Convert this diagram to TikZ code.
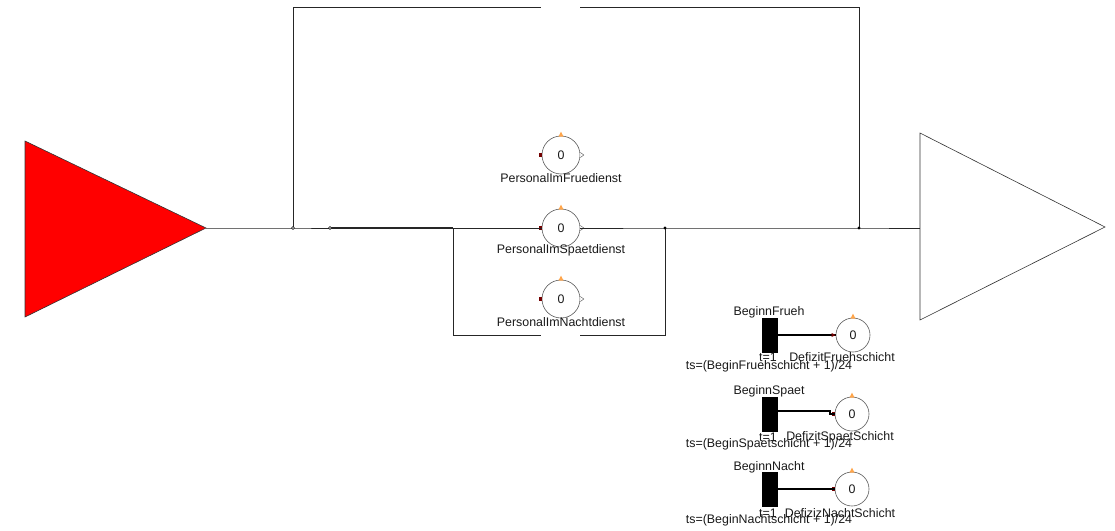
\documentclass[tikz,border=0pt]{standalone}
\usepackage{fontspec}
\setmainfont{Liberation Sans}
\usetikzlibrary{calc}
\newcommand\placedeco[2]{%
  \fill[orange!70] ($(#1.north)+(-2.5,1)$) -- ($(#1.north)+(2.5,1)$) -- ($(#1.north)+(0,-4)$) -- cycle;
  \ifnum#2=1
  \fill[red!45!black] ($(#1.west)+(-3,-2.2)$) rectangle ($(#1.west)+(0.5,2.2)$);
  \draw[black!70,fill=white,line width=0.4pt] ($(#1.east)+(0,-2.5)$) -- ($(#1.east)+(3.5,0)$) -- ($(#1.east)+(0,2.5)$);
  \fi
  \ifnum#2=2
  \fill[red!45!black] ($(#1.west)+(-3,-2.2)$) rectangle ($(#1.west)+(0.5,2.2)$);
  \fi
}
\begin{document}
\begin{tikzpicture}[x=1pt,y=-1pt,
  txt/.style={font=\fontsize{12.4}{14}\selectfont,inner sep=0pt,text=black!90},
  place/.style={circle,draw=black!65,line width=0.6pt,minimum size=38pt,inner sep=0pt,txt},
  dplace/.style={place,minimum size=34pt},
  wire/.style={draw=black!85,line width=0.8pt},
  thickwire/.style={draw=black,line width=1.6pt},
  junc/.style={circle,draw=black,fill=white,minimum size=3pt,inner sep=0pt,line width=0.5pt},
  trans/.style={fill=black,draw=black,minimum width=15pt,minimum height=34pt,inner sep=0pt}]
\useasboundingbox (0,0) rectangle (1115,530);
% source and sink
\draw[fill=red,draw=black!80,line width=0.6pt] (25,141) -- (206,228) -- (25,317) -- cycle;
\coordinate (src) at (206,228);
\draw[fill=white,draw=black!80,line width=0.6pt] (920,133) -- (1105,227) -- (920,320) -- cycle;
\coordinate (snk) at (920,228);
% places
\node[place] (pF) at (561,155) {0};
\node[place] (pS) at (561,228) {0};
\node[place] (pN) at (561,299) {0};
\node[txt] (lF) at (561,178) {PersonalImFruedienst};
\node[txt] (lS) at (561,250) {PersonalImSpaetdienst};
\node[txt] (lN) at (561,322) {PersonalImNachtdienst};
\placedeco{pF}{1}
\placedeco{pS}{1}
\placedeco{pN}{1}
% junctions
\coordinate (j1) at (293,228);
\coordinate (j2) at (330,228);
\coordinate (j4) at (665,228);
\coordinate (j3) at (859,228);
\coordinate (lb) at (453,228);
\coordinate (t1) at (293,7);
\coordinate (t2) at (541,7);
\coordinate (t3) at (580,7);
\coordinate (t4) at (859,7);
\coordinate (b1) at (453,335);
\coordinate (b2) at (541,335);
\coordinate (b3) at (580,335);
\coordinate (b4) at (665,335);
\draw[wire] (src) -- (j1) -- (j2);
\draw[wire,line width=1.3pt] (j2) -- (lb);
\draw[wire] (lb) -- (pS.west);
\draw[wire] (pS.east) -- (j4) -- (j3) -- (snk);
\draw[wire] (j1) -- (t1) -- (t2);
\draw[wire] (t3) -- (t4) -- (j3);
\draw[wire] (lb) -- (b1) -- (b2);
\draw[wire] (b3) -- (b4) -- (j4);
\node[junc] at (j1) {};
\node[junc] at (j2) {};
\fill[black] (j4) circle (1.6);
\fill[black] (j3) circle (1.6);
% transitions
\node[trans] (tF) at (769.5,335) {};
\node[trans] (tS) at (769.5,414) {};
\node[trans] (tN) at (769.5,489) {};
\node[dplace] (dF) at (853,335) {0};
\node[dplace] (dS) at (852,414) {0};
\node[dplace] (dN) at (852,489) {0};
\placedeco{dF}{0}
\placedeco{dS}{2}
\placedeco{dN}{2}
\coordinate (kS) at (830,411);
\draw[thickwire] (tF.east) -- (dF.west);
\fill[red!45!black] ($(dF.west)+(-4,-2)$) -- ($(dF.west)+(0,0)$) -- ($(dF.west)+(-4,2)$) -- cycle;
\draw[thickwire] ($(tS.east)+(0,-3)$) -- (kS) |- (dS.west);
\draw[thickwire] (tN.east) -- (dN.west);
\node[txt] (nF) at (769,312) {BeginnFrueh};
\node[txt] (nS) at (769,391) {BeginnSpaet};
\node[txt] (nN) at (769,467) {BeginnNacht};
\node[txt] (uF) at (768,357) {t=1};
\node[txt] (uS) at (768,437) {t=1};
\node[txt] (uN) at (768,513) {t=1};
\node[txt] (sF) at (769,366) {ts=(BeginFruehschicht + 1)/24};
\node[txt] (sS) at (769,444) {ts=(BeginSpaetschicht + 1)/24};
\node[txt] (sN) at (769,520) {ts=(BeginNachtschicht + 1)/24};
\node[txt] (qF) at (842,357) {DefizitFruehschicht};
\node[txt] (qS) at (840,437) {DefizitSpaetSchicht};
\node[txt] (qN) at (840,513) {DefizizNachtSchicht};
\end{tikzpicture}
\end{document}
